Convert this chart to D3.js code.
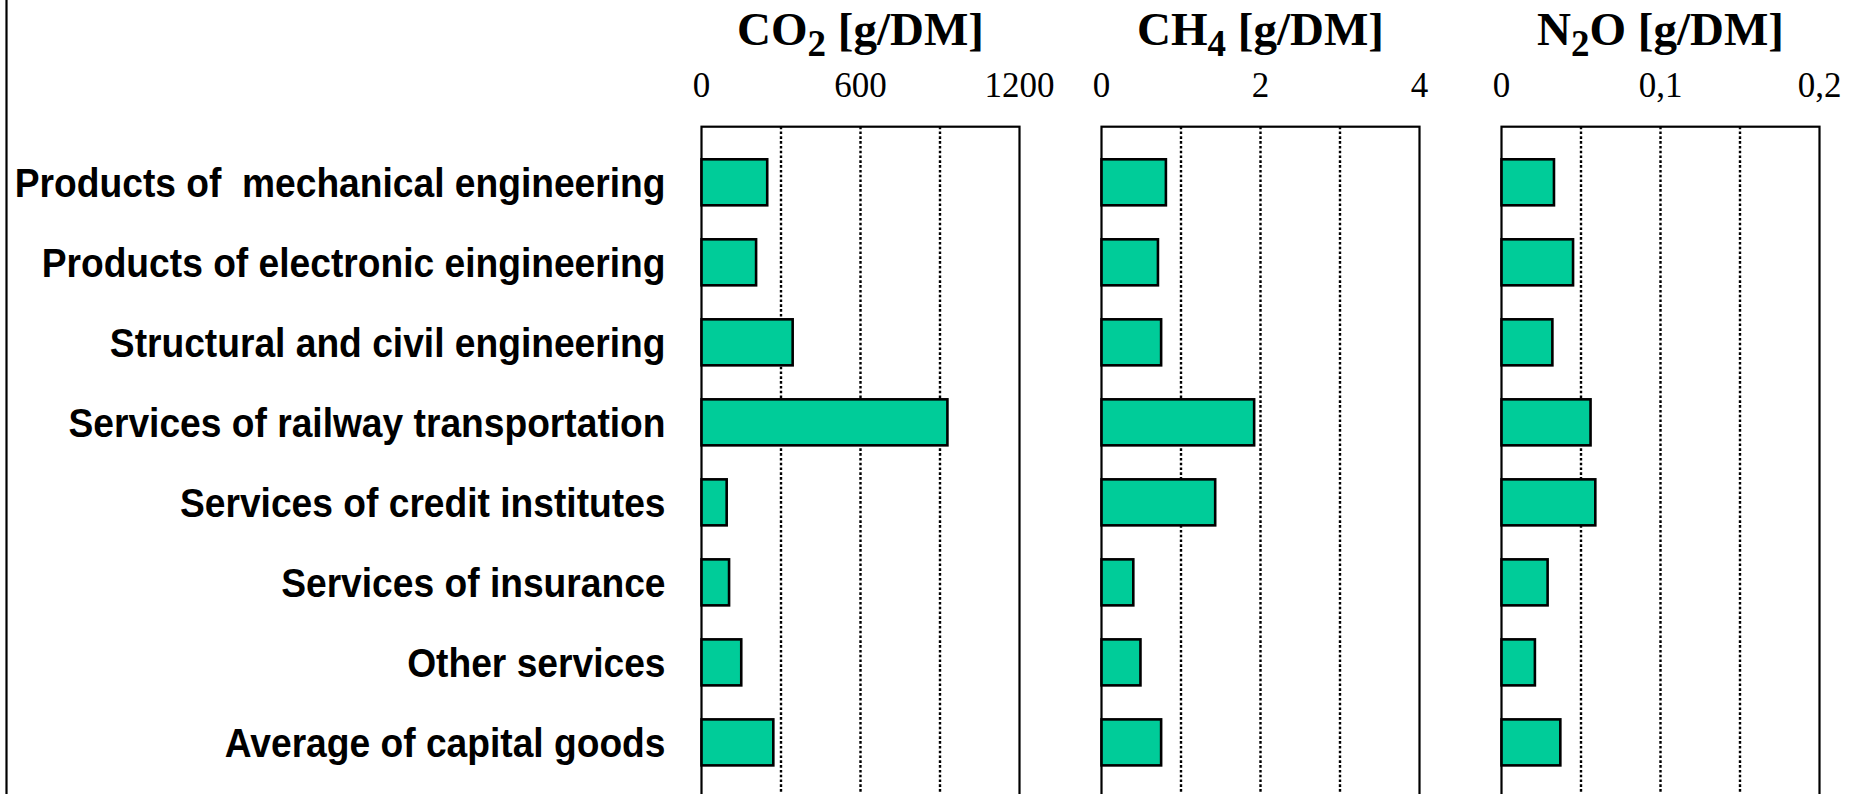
<!DOCTYPE html>
<html>
<head>
<meta charset="utf-8">
<script src="https://cdn.jsdelivr.net/npm/d3@7"></script>
<style>
  body { margin: 0; background: #fff; }
  svg { display: block; }
</style>
</head>
<body>
<div id="chart"></div>
<script>
const CATEGORIES = [
  'Products of  mechanical engineering',
  'Products of electronic eingineering',
  'Structural and civil engineering',
  'Services of railway transportation',
  'Services of credit institutes',
  'Services of insurance',
  'Other services',
  'Average of capital goods'
];
const GASES = ['CO2', 'CH4', 'N2O'];
const GAS_NAME = { CO2: ['CO', '2', ''], CH4: ['CH', '4', ''], N2O: ['N', '2', 'O'] };
const GAS_MAX = { CO2: 1200, CH4: 4, N2O: 0.2 };
const CO2_VALUES = [248, 206, 344, 928, 95, 104, 150, 271];
const CH4_VALUES = [0.81, 0.71, 0.75, 1.92, 1.43, 0.40, 0.49, 0.75];
const N2O_VALUES = [0.033, 0.045, 0.032, 0.056, 0.059, 0.029, 0.021, 0.037];
const VALUES = { CO2: CO2_VALUES, CH4: CH4_VALUES, N2O: N2O_VALUES };

const W = 1851, H = 794;
const BAR_FILL = '#00cc99';
const LABEL_SQUEEZE = 0.907;
const deFmt = d3.formatLocale({ decimal: ',', thousands: '.', grouping: [3], currency: ['', ''] }).format('~g');

const svg = d3.select('#chart').append('svg').attr('width', W).attr('height', H);

// outer border remnant on the left
svg.append('line').attr('x1', 6.5).attr('x2', 6.5).attr('y1', 0).attr('y2', H)
  .attr('stroke', '#000').attr('stroke-width', 2.2);

const panelX = d3.scaleBand().domain(GASES).range([701.5, 1819.5]).paddingInner(0.205);
const plotTop = 126.7;
const y = d3.scaleBand().domain(CATEGORIES).range([plotTop, 798]).paddingInner(0.425).paddingOuter(0.4075);

// category labels
svg.append('g').selectAll('g').data(CATEGORIES).enter().append('g')
  .attr('transform', d => `translate(665.5,${y(d) + y.bandwidth() / 2 + 14.5}) scale(${LABEL_SQUEEZE},1)`)
  .append('text')
  .attr('text-anchor', 'end')
  .style('white-space', 'pre')
  .style('font-family', '"Liberation Sans", Arial, sans-serif')
  .style('font-weight', 700).style('font-size', '41px')
  .attr('fill', '#000')
  .text(d => d);

GASES.forEach(gas => {
  const x0 = panelX(gas), w = panelX.bandwidth();
  const max = GAS_MAX[gas];
  const x = d3.scaleLinear().domain([0, max]).range([x0, x0 + w]);
  const g = svg.append('g');

  // frame
  g.append('rect').attr('x', x0).attr('y', plotTop).attr('width', w).attr('height', H + 20 - plotTop)
    .attr('fill', '#fff').attr('stroke', '#000').attr('stroke-width', 2.2);

  // dotted gridlines at quarters
  g.append('g').selectAll('line').data([1, 2, 3].map(k => max * k / 4)).enter().append('line')
    .attr('x1', d => x(d)).attr('x2', d => x(d)).attr('y1', plotTop).attr('y2', H)
    .attr('stroke', '#000').attr('stroke-width', 2.4).attr('stroke-dasharray', '2.6,2.2');

  // bars
  g.append('g').selectAll('rect').data(VALUES[gas]).enter().append('rect')
    .attr('x', x(0)).attr('y', (d, i) => y(CATEGORIES[i]))
    .attr('width', d => x(d) - x(0)).attr('height', y.bandwidth())
    .attr('fill', BAR_FILL).attr('stroke', '#000').attr('stroke-width', 2.6);

  // tick labels: 0, mid, max
  g.append('g').selectAll('text').data([0, max / 2, max]).enter().append('text')
    .attr('x', d => x(d)).attr('y', 97).attr('text-anchor', 'middle')
    .style('font-family', '"Liberation Serif", "Times New Roman", serif').style('font-size', '35px')
    .attr('fill', '#000')
    .text(d => deFmt(d));

  // title with subscript
  const parts = GAS_NAME[gas];
  const t = g.append('text').attr('x', x0 + w / 2).attr('y', 45).attr('text-anchor', 'middle')
    .style('font-family', '"Liberation Serif", "Times New Roman", serif')
    .style('font-weight', 700).style('font-size', '47px').attr('fill', '#000');
  t.append('tspan').text(parts[0]);
  t.append('tspan').attr('dy', 11).style('font-size', '37px').text(parts[1]);
  t.append('tspan').attr('dy', -11).text(parts[2] + ' [g/DM]');
});
</script>
</body>
</html>
